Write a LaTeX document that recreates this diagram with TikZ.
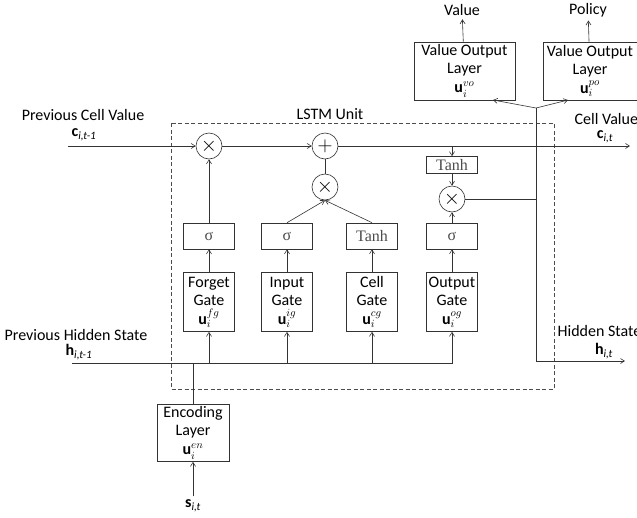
\documentclass[tikz,border=0pt]{standalone}
\usepackage{fontspec}
\setmainfont{Carlito}
\newfontfamily\opfont{Liberation Serif}
\usetikzlibrary{arrows.meta,calc}

\begin{document}
\begin{tikzpicture}[x=1pt, y=-1pt,
    line width=0.6pt, draw=black!80,
    >={Straight Barb[length=4pt,width=5pt]},
    every node/.style={font=\fontsize{16}{18}\selectfont},
    gatebox/.style={draw, minimum width=51pt, minimum height=59pt, align=center, inner sep=0pt},
    actbox/.style={draw, minimum width=51pt, minimum height=26pt, inner sep=0pt, text=black!70, font=\opfont\fontsize{16}{18}\selectfont},
    opcirc/.style={draw, circle, minimum size=26pt, inner sep=0pt, font=\fontsize{22}{22}\selectfont},
    outbox/.style={draw, minimum width=101pt, minimum height=58pt, align=center, inner sep=0pt}]

    \useasboundingbox (0,0) rectangle (637,517);

    % Riquadro LSTM
    \draw[dashed, black!70, dash pattern=on 4pt off 2.5pt] (171,123) rectangle (554,389);
    \node (lstm) at (330,114) {LSTM Unit};

    % Operatori sulla linea di cella
    \node[opcirc] (fx) at (209,146) {$\times$};
    \node[opcirc] (plus) at (325,146) {$+$};
    \node[opcirc] (ix) at (325,187) {$\times$};
    \node[opcirc] (ox) at (452,199) {$\times$};
    \node[actbox, minimum height=17pt] (otanh) at (452,165) {Tanh};

    % Attivazioni
    \node[actbox] (fsig) at (209,236) {σ};
    \node[actbox] (isig) at (287,236) {σ};
    \node[actbox] (tsig) at (372,236) {Tanh};
    \node[actbox] (osig) at (452,236) {σ};

    % Gate
    \node[gatebox] (fgate) at (209,302) {Forget\\Gate\\[1pt]$\mathbf{u}_i^{fg}$};
    \node[gatebox] (igate) at (287,302) {Input\\Gate\\[1pt]$\mathbf{u}_i^{ig}$};
    \node[gatebox] (cgate) at (372,302) {Cell\\Gate\\[1pt]$\mathbf{u}_i^{cg}$};
    \node[gatebox] (ogate) at (452,302) {Output\\Gate\\[1pt]$\mathbf{u}_i^{og}$};

    % Strato di codifica
    \node[gatebox, minimum width=72pt, minimum height=57pt] (enc) at (193,433) {Encoding\\Layer\\[1pt]$\mathbf{u}_i^{en}$};
    \node (sit) at (193,506) {\textbf{s}\textsubscript{\itshape i,t}};

    % Strati di uscita
    \node[outbox] (vo) at (464.5,71) {Value Output\\Layer\\[1pt]$\mathbf{u}_i^{vo}$};
    \node[outbox, minimum width=94pt] (po) at (590,71) {Value Output\\Layer\\[1pt]$\mathbf{u}_i^{po}$};
    \node (val) at (462,10) {Value};
    \node (pol) at (588,10) {Policy};

    % Etichette esterne
    \node (pcv) at (83,115) {Previous Cell Value};
    \node (cprev) at (84,135) {\textbf{c}\textsubscript{\itshape i,t-1}};
    \node (phs) at (76,335) {Previous Hidden State};
    \node (hprev) at (79,352) {\textbf{h}\textsubscript{\itshape i,t-1}};
    \node[anchor=west] (cv) at (571,119) {Cell Value};
    \node (cnext) at (605,137) {\textbf{c}\textsubscript{\itshape i,t}};
    \node[anchor=west] (hs) at (554,331) {Hidden State};
    \node (hnext) at (604,351) {\textbf{h}\textsubscript{\itshape i,t}};

    % Punti di appoggio
    \coordinate (cin) at (68,146);
    \coordinate (cout) at (630,146);
    \coordinate (hin) at (72,363);
    \coordinate (hout) at (625,361);
    \coordinate (split) at (536,108);
    \coordinate (hj) at (536,199);
    \coordinate (vin) at (493,100);
    \coordinate (pin) at (568,100);

    % Linea di cella
    \draw[->] (cin) -- (fx);
    \draw[->] (fx) -- (plus);
    \draw[->] (plus) -- (cout);
    \draw (ix) -- (plus);
    \draw[->] (otanh.north |- cin) -- (otanh);
    \draw[->] (otanh) -- (ox);

    % Gate -> attivazioni -> operatori
    \draw[->] (fsig) -- (fx);
    \draw[->] (isig.north) -- (ix.south);
    \draw[->] (tsig.north) -- (ix.south);
    \draw[->] (osig) -- (ox);
    \draw[->] (fgate) -- (fsig);
    \draw[->] (igate) -- (isig);
    \draw[->] (cgate) -- (tsig);
    \draw[->] (ogate) -- (osig);

    % Stato nascosto in ingresso
    \draw[->] (hin) -| (ogate.south);
    \draw[->] (fgate.south |- hin) -- (fgate.south);
    \draw[->] (igate.south |- hin) -- (igate.south);
    \draw[->] (cgate.south |- hin) -- (cgate.south);
    \draw[line width=1pt] (enc.north) -- (enc.north |- hin);
    \draw[->] (sit.north) -- (enc.south);

    % Uscita
    \draw (ox) -- (hj);
    \draw[->] (split) |- (hout);
    \draw[->] (split) -- (vin);
    \draw[->] (split) -- (pin);
    \draw[->] (vo) -- (val);
    \draw[->] (po) -- (pol);

\end{tikzpicture}
\end{document}
